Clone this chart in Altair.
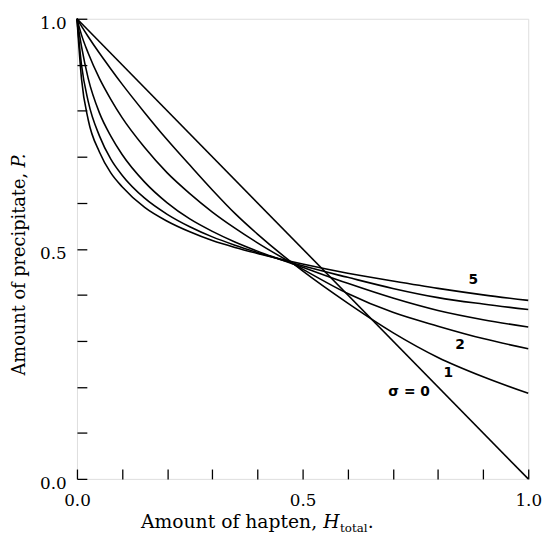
import altair as alt
import pandas as pd

# ---- data ----
H_GRID = [0.0, 0.01, 0.025, 0.05, 0.075, 0.1, 0.15, 0.2, 0.25, 0.3, 0.35, 0.4,
          0.5, 0.6, 0.7, 0.8, 0.9, 1.0]

H_S0 = [0.0, 1.0]
P_S0 = [1.0, 0.0]
P_S1 = [1.0, 0.984, 0.961, 0.925, 0.891, 0.858, 0.796, 0.737, 0.682, 0.628, 0.577, 0.532,
        0.452, 0.382, 0.318, 0.264, 0.222, 0.186]
P_S2 = [1.0, 0.965, 0.925, 0.87, 0.825, 0.785, 0.72, 0.665, 0.62, 0.58, 0.545, 0.513,
        0.456, 0.403, 0.362, 0.332, 0.305, 0.283]
P_S3 = [1.0, 0.94, 0.87, 0.795, 0.745, 0.705, 0.645, 0.60, 0.565, 0.538, 0.515, 0.495,
        0.46, 0.425, 0.393, 0.366, 0.346, 0.33]
P_S4 = [1.0, 0.90, 0.82, 0.745, 0.695, 0.66, 0.61, 0.575, 0.548, 0.526, 0.508, 0.492,
        0.463, 0.438, 0.414, 0.394, 0.38, 0.368]
P_S5 = [1.0, 0.87, 0.78, 0.71, 0.665, 0.635, 0.59, 0.56, 0.537, 0.518, 0.503, 0.49,
        0.467, 0.447, 0.43, 0.414, 0.40, 0.388]

TICK_VALUES = [0.0, 0.1, 0.2, 0.3, 0.4, 0.5, 0.6, 0.7, 0.8, 0.9, 1.0]

LABEL_TEXT = ["5", "2", "1", "σ = 0"]
LABEL_H = [0.878, 0.849, 0.823, 0.736]
LABEL_P = [0.433, 0.291, 0.229, 0.188]

rows = []
for name, hs, ps in [("0", H_S0, P_S0), ("1", H_GRID, P_S1), ("2", H_GRID, P_S2),
                     ("3", H_GRID, P_S3), ("4", H_GRID, P_S4), ("5", H_GRID, P_S5)]:
    for h, p in zip(hs, ps):
        rows.append({"sigma": name, "H": h, "P": p})
df = pd.DataFrame(rows)
lab = pd.DataFrame({"label": LABEL_TEXT, "H": LABEL_H, "P": LABEL_P})

SERIF = "DejaVu Serif"
label_expr = "(datum.value == 0 || datum.value == 0.5 || datum.value == 1) ? format(datum.value, '.1f') : ''"

x_axis = alt.Axis(values=TICK_VALUES, labelExpr=label_expr, offset=-10, tickSize=10,
                  tickWidth=1.3, tickColor="black", domain=False, grid=False,
                  labelFont=SERIF, labelFontSize=17, labelColor="black",
                  labelPadding=14, labelFlush=False, title=None)
y_axis = alt.Axis(values=TICK_VALUES, labelExpr=label_expr, offset=-10, tickSize=10,
                  tickWidth=1.3, tickColor="black", domain=False, grid=False,
                  labelFont=SERIF, labelFontSize=17, labelColor="black",
                  labelPadding=11, labelOffset=5, labelFlush=False, title=None)

x = alt.X("H:Q", scale=alt.Scale(domain=[0, 1], nice=False), axis=x_axis)
y = alt.Y("P:Q", scale=alt.Scale(domain=[0, 1], nice=False), axis=y_axis)

lines = alt.Chart(df).mark_line(color="black", strokeWidth=1.6, interpolate="monotone").encode(
    x=x, y=y, detail="sigma:N", order="H:Q")

curve_labels = alt.Chart(lab).mark_text(
    font="DejaVu Sans", fontSize=14, fontWeight="bold", color="black"
).encode(x="H:Q", y="P:Q", text="label:N")


def txt(s, xv, yv, **kw):
    return alt.Chart(pd.DataFrame({"t": [s]})).mark_text(color="black", **kw).encode(
        x=alt.value(xv), y=alt.value(yv), text="t:N")


xt1 = txt("Amount of hapten,", 65, 517, font=SERIF, fontSize=19, align="left", baseline="alphabetic")
xt2 = txt("H", 250, 517, font=SERIF, fontSize=19, fontStyle="italic", align="left", baseline="alphabetic")
xt3 = txt("total", 267, 521, font=SERIF, fontSize=12, align="left", baseline="alphabetic")
xt4 = txt(".", 295, 517, font=SERIF, fontSize=19, align="left", baseline="alphabetic")
yt1 = txt("Amount of precipitate,", -58, 362, font=SERIF, fontSize=18, angle=270, align="left", baseline="middle")
yt2 = txt("P.", -58, 151, font=SERIF, fontSize=18, fontStyle="italic", angle=270, align="left", baseline="middle")

chart = alt.layer(lines, curve_labels, xt1, xt2, xt3, xt4, yt1, yt2).properties(
    width=458, height=467,
    padding={"left": 70, "top": 7, "right": 16, "bottom": 52},
    autosize="none",
).configure_view(stroke="black", strokeWidth=3).configure(background="white")

chart.save("out.html", embed_options={"renderer": "svg", "actions": False})
